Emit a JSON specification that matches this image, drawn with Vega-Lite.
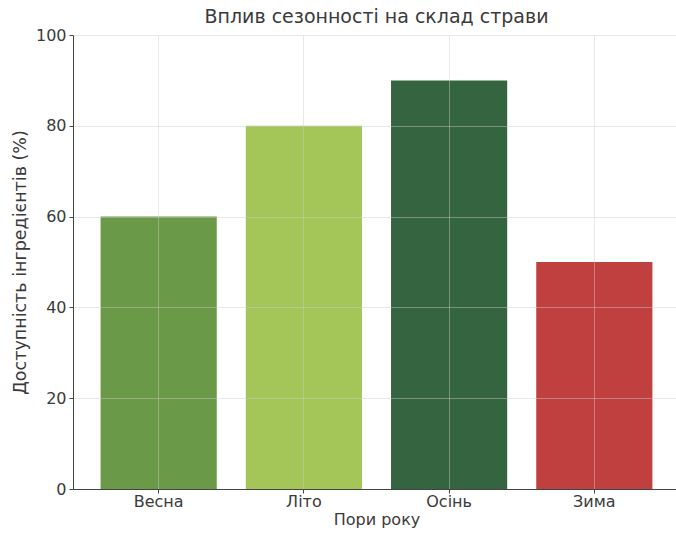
{
  "$schema": "https://vega.github.io/schema/vega-lite/v6.json",
  "autosize": "none",
  "padding": {"left": 73, "top": 35, "right": 0, "bottom": 46},
  "width": 607,
  "height": 454,
  "background": "white",
  "title": {"text": "Вплив сезонності на склад страви", "font": "DejaVu Sans", "fontSize": 19, "fontWeight": "normal", "color": "#3a3a3a", "offset": 0},
  "data": {"values": [
    {"season": "Весна", "value": 60, "color": "#6a9948"},
    {"season": "Літо", "value": 80, "color": "#a4c658"},
    {"season": "Осінь", "value": 90, "color": "#346440"},
    {"season": "Зима", "value": 50, "color": "#c04040"}
  ]},
  "mark": {"type": "bar"},
  "encoding": {
    "x": {"field": "season", "type": "nominal", "sort": null,
      "scale": {"paddingInner": 0.2, "paddingOuter": 0.19},
      "axis": {"title": "Пори року", "labelAngle": 0, "bandPosition": 0.5, "grid": true, "zindex": 1, "labelPadding": 0, "titlePadding": 2, "labelFontSize": 16, "titleFontSize": 16}},
    "y": {"field": "value", "type": "quantitative",
      "scale": {"domain": [0, 100], "nice": false},
      "axis": {"title": "Доступність інгредієнтів (%)", "values": [0, 20, 40, 60, 80, 100], "grid": true, "zindex": 1, "labelFontSize": 16, "titleFontSize": 17.5, "titlePadding": 6}},
    "color": {"field": "color", "type": "nominal", "scale": null}
  },
  "config": {
    "view": {"stroke": null},
    "axis": {
      "labelFont": "DejaVu Sans", "titleFont": "DejaVu Sans",
      "titleFontWeight": "normal",
      "labelColor": "#3a3a3a", "titleColor": "#3a3a3a",
      "domainColor": "#444", "tickColor": "#444", "tickSize": 4,
      "gridColor": "#cccccc", "gridOpacity": 0.45, "labelPadding": 3
    }
  }
}
